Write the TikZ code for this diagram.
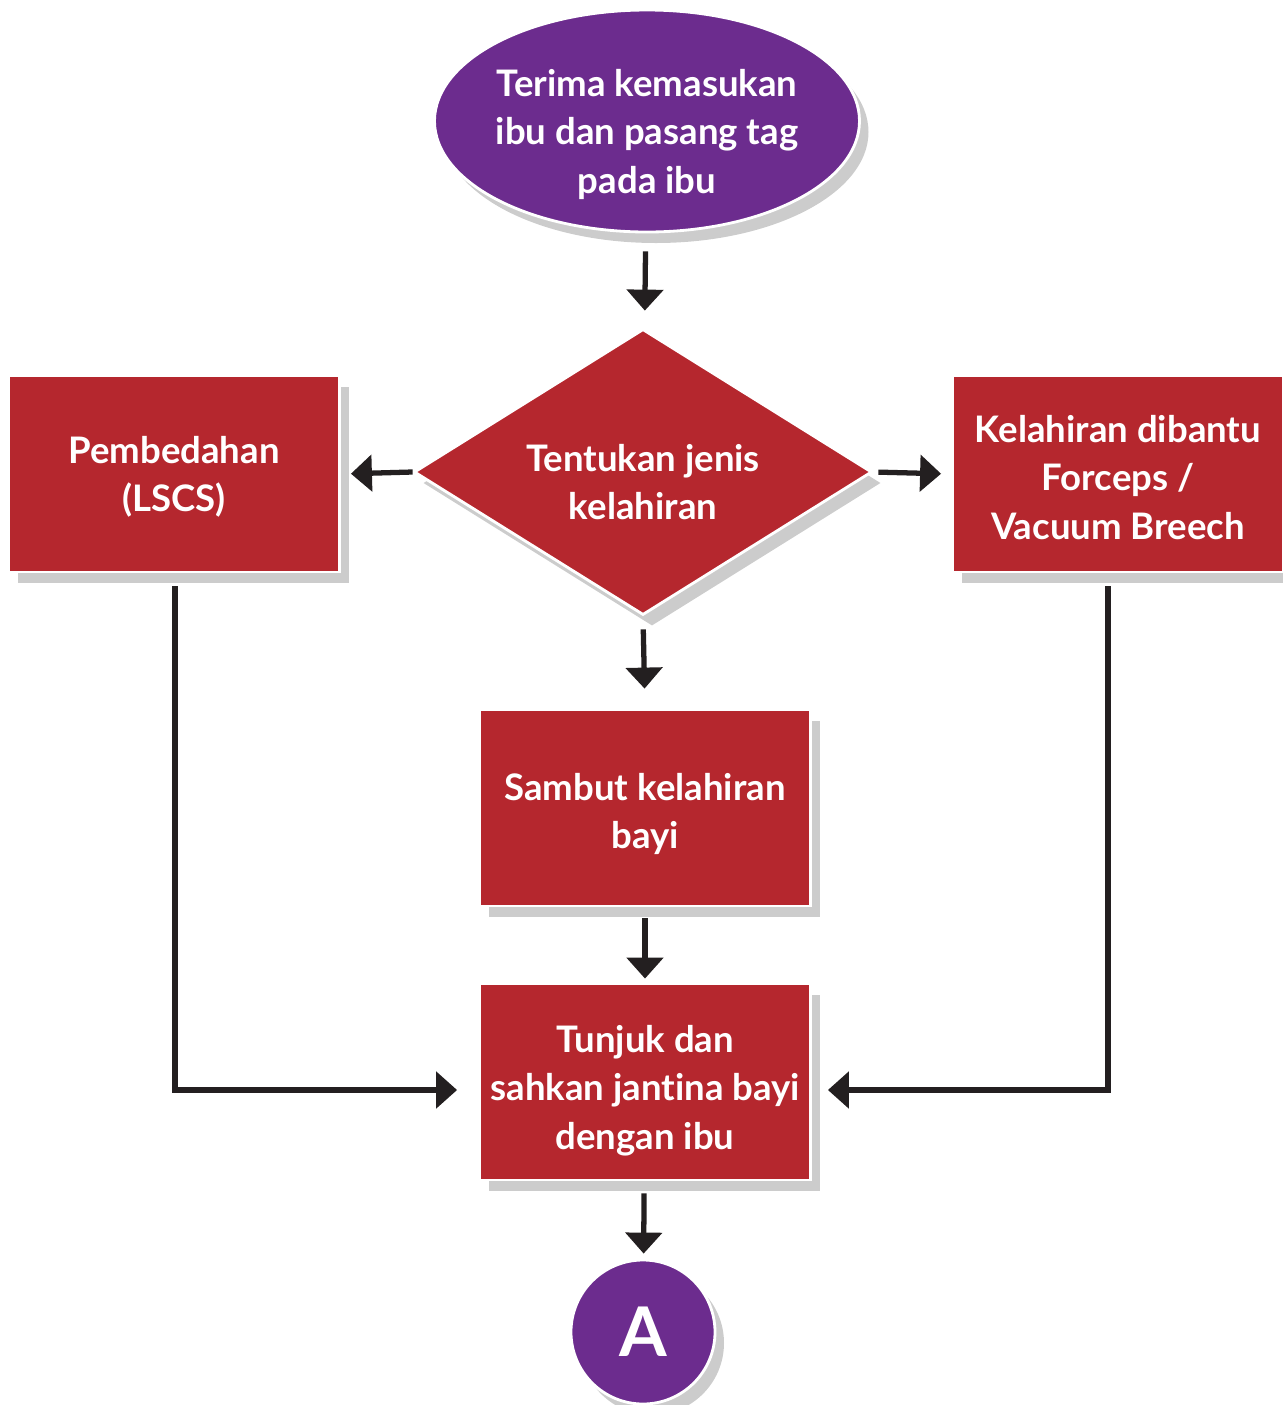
\documentclass[tikz,border=0pt]{standalone}
\usepackage{fontspec}
\setsansfont{Lato}[Ligatures=NoCommon]
\usepackage{tikz}
\usetikzlibrary{arrows.meta,shapes.geometric,shadows}
\definecolor{boxred}{HTML}{B5272E}
\definecolor{startpurple}{HTML}{6C2C8E}
\definecolor{arrowdark}{HTML}{231F20}
% centred lines, lowered a little inside their shape
\newcommand{\lowtext}[2]{\makebox[0pt]{\raisebox{-#1}[0pt][0pt]{\begin{tabular}{@{}c@{}}#2\end{tabular}}}}

\begin{document}
\begin{tikzpicture}[
    every node/.style={text=white, font=\sffamily\bfseries\fontsize{10.4}{13.7}\selectfont},
    softshadow/.style={drop shadow={shadow xshift=0.09cm, shadow yshift=-0.11cm, fill=black, opacity=0.2}},
    stepbox/.style={rectangle, fill=boxred, draw=white, line width=0.8pt, minimum width=3.31cm, minimum height=1.96cm, inner sep=0pt, softshadow},
    flow/.style={draw=arrowdark, line width=1.5pt, -{Triangle[width=3.6mm,length=2.1mm]}},
  ]
  \useasboundingbox (0,0) rectangle (12.83,-14.05);
  % start
  \node[ellipse, fill=startpurple, draw=white, line width=0.8pt, minimum width=4.25cm, minimum height=2.22cm, inner sep=0pt, softshadow] (terima) at (6.47,-1.21) {\lowtext{0.23cm}{Terima kemasukan\\ibu dan pasang tag\\pada ibu}};
  % decision
  \node[diamond, fill=boxred, draw=white, line width=0.8pt, minimum width=4.58cm, minimum height=2.86cm, inner sep=0pt, softshadow] (tentukan) at (6.43,-4.72) {\lowtext{0.23cm}{Tentukan jenis\\kelahiran}};
  % the three ways
  \node[stepbox] (lscs) at (1.74,-4.74) {\lowtext{0.13cm}{Pembedahan\\(LSCS)}};
  \node[stepbox] (forceps) at (11.18,-4.74) {\lowtext{0.16cm}{Kelahiran dibantu\\Forceps /\\Vacuum Breech}};
  \node[stepbox] (sambut) at (6.45,-8.08) {\lowtext{0.16cm}{Sambut kelahiran\\bayi}};
  \node[stepbox] (tunjuk) at (6.45,-10.82) {\lowtext{0.18cm}{Tunjuk dan\\sahkan jantina bayi\\dengan ibu}};
  % connector
  \node[circle, fill=startpurple, draw=white, line width=0.8pt, minimum size=1.44cm, inner sep=0pt, softshadow, font=\sffamily\bfseries\fontsize{19.5}{22}\selectfont] (a) at (6.43,-13.32) {A};
  % arrows
  \draw[flow, shorten <=0.18cm, shorten >=0.18cm] (terima) -- (tentukan);
  \draw[flow, shorten >=0.1cm] (tentukan.west) -- (lscs.east);
  \draw[flow, shorten <=0.05cm, shorten >=0.1cm] (tentukan.east) -- (forceps.west);
  \draw[flow, shorten <=0.13cm, shorten >=0.2cm] (tentukan.south) -- (sambut.north);
  \draw[flow, shorten <=0.11cm, shorten >=0.04cm] (sambut) -- (tunjuk);
  \draw[flow, shorten <=0.12cm, shorten >=0.05cm] (tunjuk) -- (a);
  \draw[flow] ([xshift=0.01cm, yshift=-0.13cm]lscs.south) |- ([xshift=-0.21cm, yshift=-0.08cm]tunjuk.west);
  \draw[flow] ([xshift=-0.1cm, yshift=-0.13cm]forceps.south) |- ([xshift=0.16cm, yshift=-0.08cm]tunjuk.east);
\end{tikzpicture}
\end{document}
